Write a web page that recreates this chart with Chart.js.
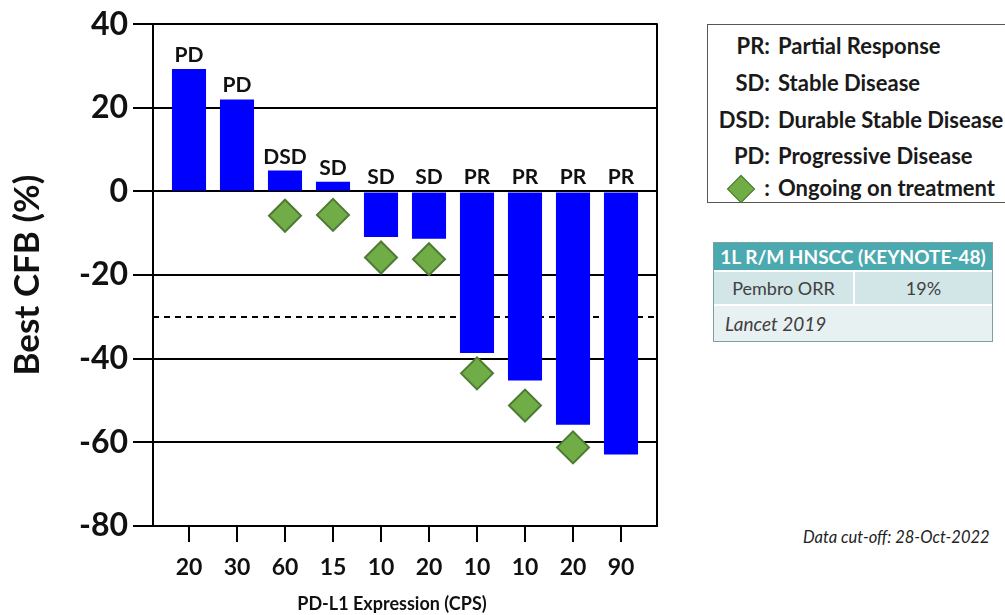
<!DOCTYPE html>
<html>
<head>
<meta charset="utf-8">
<script src="https://cdn.jsdelivr.net/npm/chart.js@4/dist/chart.umd.min.js"></script>
<style>
  html, body { margin: 0; padding: 0; background: #fff; }
  body { width: 1005px; height: 615px; position: relative; overflow: hidden; font-family: Lato, "Open Sans", sans-serif; }
  #wrap { position: absolute; left: 0; top: 0; width: 700px; height: 615px; }
  #legendBox { position: absolute; left: 707px; top: 24px; width: 320px; height: 179px; border: 1.5px solid #555; box-sizing: border-box; }
  .lrow { position: absolute; left: 0; height: 30px; line-height: 30px; font-weight: 700; font-size: 22px; color: #1a1a1a; white-space: nowrap; }
  .lrow .code { display: inline-block; width: 62px; text-align: right; }
  .lrow .txt { margin-left: 8px; }
  .dia { position: absolute; left: 23px; top: 6px; width: 18px; height: 18px; background: #70ad47; border: 1.5px solid #4e7a33; transform: rotate(45deg); }
  #tbl { position: absolute; left: 713px; top: 242px; width: 280px; border: 1.5px solid #7d9fa3; box-sizing: border-box; background: #fff; color: #404040; font-size: 18px; }
  #tbl .hd { height: 27px; line-height: 27px; background: #4ba9b0; color: #fff; font-weight: 700; font-size: 19px; text-align: center; white-space: nowrap; }
  #tbl .r2 { display: flex; margin-top: 2px; height: 32px; line-height: 32px; }
  #tbl .r2 div { background: #d2e5e7; text-align: center; }
  #tbl .r3 { margin-top: 2px; height: 35px; line-height: 35px; background: #e8f1f2; font-style: italic; font-size: 19px; padding-left: 11px; }
  #cutoff { position: absolute; left: 803px; top: 527px; font-size: 16.5px; font-style: italic; color: #222; white-space: nowrap; }
  #xtitle { position: absolute; left: 292px; width: 200px; top: 592px; text-align: center; font-size: 18px; font-weight: 700; color: #111; white-space: nowrap; }
</style>
</head>
<body>
<div id="wrap"><canvas id="chart" width="700" height="615"></canvas></div>
<div id="xtitle">PD-L1 Expression (CPS)</div>

<div id="legendBox">
  <div class="lrow" style="top:6px"><span class="code">PR:</span><span class="txt">Partial Response</span></div>
  <div class="lrow" style="top:43px"><span class="code">SD:</span><span class="txt">Stable Disease</span></div>
  <div class="lrow" style="top:80px"><span class="code">DSD:</span><span class="txt">Durable Stable Disease</span></div>
  <div class="lrow" style="top:116px"><span class="code">PD:</span><span class="txt">Progressive Disease</span></div>
  <div class="lrow" style="top:148px"><span class="dia"></span><span class="code">:</span><span class="txt">Ongoing on treatment</span></div>
</div>

<div id="tbl">
  <div class="hd">1L R/M HNSCC (KEYNOTE-48)</div>
  <div class="r2"><div style="width:139px">Pembro ORR</div><div style="width:2px;background:#fff"></div><div style="flex:1">19%</div></div>
  <div class="r3">Lancet 2019</div>
</div>

<div id="cutoff">Data cut-off: 28-Oct-2022</div>

<script>
// PD-L1 CPS per patient (x axis labels)
const cpsLabels = ['20', '30', '60', '15', '10', '20', '10', '10', '20', '90'];
// best change from baseline, %
const bestCfb = [29.3, 22, 5, 2.3, -10.9, -11.3, -38.6, -45.2, -55.8, -62.9];
const responses = ['PD', 'PD', 'DSD', 'SD', 'SD', 'SD', 'PR', 'PR', 'PR', 'PR'];
// patients still on treatment (diamonds)
const ongoingIdx = [2, 3, 4, 5, 6, 7, 8];
const ongoingVal = [-5.8, -5.6, -15.8, -16.2, -43.5, -51.2, -61.2];
const yTicks = [40, 20, 0, -20, -40, -60, -80];
const prThreshold = -30;

const FONT = 'Lato, "Open Sans", sans-serif';

const extras = {
  id: 'extras',
  beforeDatasetsDraw(chart) {
    const { ctx, chartArea, scales } = chart;
    const y = scales.y.getPixelForValue(prThreshold);
    ctx.save();
    ctx.strokeStyle = '#000';
    ctx.lineWidth = 2;
    ctx.setLineDash([6, 5]);
    ctx.beginPath();
    ctx.moveTo(chartArea.left, y);
    ctx.lineTo(chartArea.right, y);
    ctx.stroke();
    ctx.restore();
  },
  afterDatasetsDraw(chart) {
    const { ctx, chartArea, scales } = chart;
    const zero = scales.y.getPixelForValue(0);
    const bars = chart.getDatasetMeta(1).data;
    ctx.save();
    ctx.font = 'bold 21px ' + FONT;
    ctx.fillStyle = '#111';
    ctx.textAlign = 'center';
    ctx.textBaseline = 'alphabetic';
    bars.forEach((bar, i) => {
      const top = Math.min(bar.y, zero);
      ctx.fillText(responses[i], bar.x, top - 7);
    });
    // right frame line
    ctx.strokeStyle = '#000';
    ctx.lineWidth = 2;
    ctx.beginPath();
    ctx.moveTo(chartArea.right, chartArea.top - 1);
    ctx.lineTo(chartArea.right, chartArea.bottom + 1);
    ctx.stroke();
    ctx.restore();
  }
};

new Chart(document.getElementById('chart'), {
  type: 'bar',
  data: {
    datasets: [
      {
        type: 'scatter',
        data: ongoingIdx.map((x, k) => ({ x: x, y: ongoingVal[k] })),
        pointStyle: 'rectRot',
        pointRadius: 16,
        backgroundColor: '#70ad47',
        borderColor: '#4e7a33',
        borderWidth: 2,
        order: 0
      },
      {
        type: 'bar',
        data: bestCfb.map((v, i) => ({ x: i, y: v })),
        backgroundColor: '#0000ff',
        borderWidth: 0,
        barPercentage: 0.71,
        categoryPercentage: 1,
        order: 1
      }
    ]
  },
  plugins: [extras],
  options: {
    responsive: false,
    animation: false,
    layout: { padding: { top: 24, right: 43, left: 0, bottom: 0 } },
    plugins: {
      legend: { display: false },
      tooltip: { enabled: false }
    },
    scales: {
      x: {
        type: 'linear',
        min: -0.75,
        max: 9.75,
        offset: false,
        afterBuildTicks: (scale) => { scale.ticks = cpsLabels.map((_, i) => ({ value: i })); },
        afterFit: (scale) => { scale.height = 89; },
        ticks: {
          callback: (v) => cpsLabels[v],
          font: { family: FONT, size: 23, weight: 'bold' },
          color: '#111',
          padding: 12,
          maxRotation: 0
        },
        grid: { offset: false, drawOnChartArea: false, drawTicks: true, tickLength: 16, color: '#000', lineWidth: 2 },
        border: { display: true, color: '#000', width: 2 }
      },
      y: {
        min: -80,
        max: 40,
        afterBuildTicks: (scale) => { scale.ticks = yTicks.map(v => ({ value: v })); },
        afterFit: (scale) => { scale.width = 153; },
        ticks: {
          font: { family: FONT, size: 32, weight: 'bold' },
          color: '#111',
          padding: 5
        },
        grid: { color: '#000', lineWidth: 2, tickLength: 20 },
        border: { display: true, color: '#000', width: 2 },
        title: {
          display: true,
          text: 'Best CFB (%)',
          font: { family: FONT, size: 35, weight: 'bold' },
          color: '#111',
          padding: { top: 7, bottom: 0 }
        }
      }
    }
  }
});
</script>
</body>
</html>
